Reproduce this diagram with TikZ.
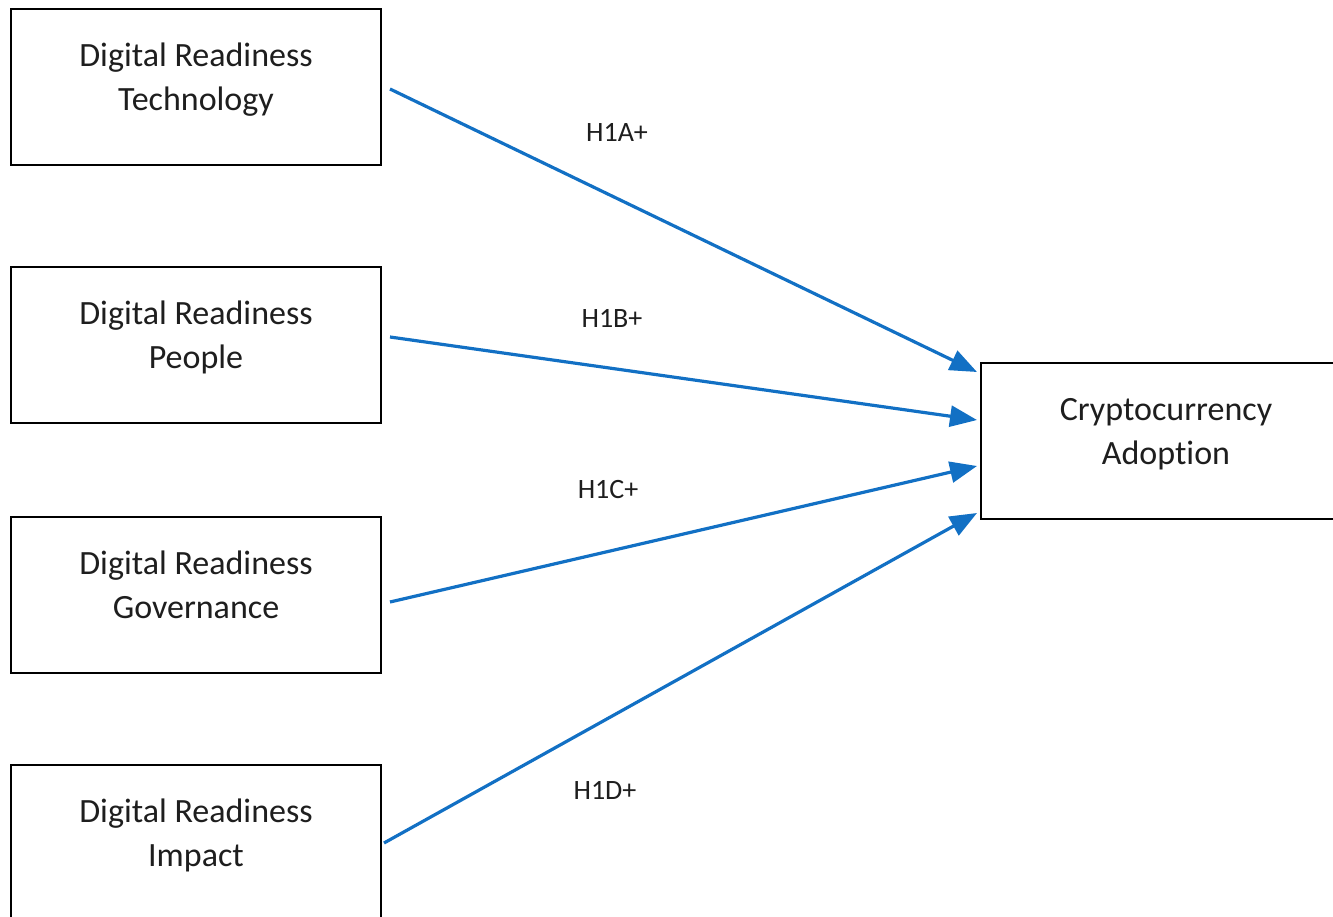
\documentclass[tikz,border=0pt]{standalone}
\usepackage{fontspec}
\setmainfont{Carlito}[Ligatures=NoCommon]
\usetikzlibrary{arrows.meta,calc}
\definecolor{arrowblue}{RGB}{18,112,196}
\definecolor{txtgray}{RGB}{30,30,30}
\begin{document}
\begin{tikzpicture}[x=1pt,y=-1pt,
  box/.style={draw=black,line width=2pt,minimum width=370pt,minimum height=156pt,inner sep=0pt,fill=white},
  boxtext/.style={inner sep=0pt,align=center,font=\fontsize{34}{44}\selectfont,text=txtgray},
  hyp/.style={inner sep=0pt,font=\fontsize{28}{34}\selectfont,text=txtgray},
  link/.style={draw=arrowblue,line width=3.2pt,-{Triangle[length=27pt,width=21pt]}}]
\clip (0,0) rectangle (1333,917);
\useasboundingbox (0,0) rectangle (1333,917);
% boxes
\node[box] (b1) at (196,87) {};
\node[box] (b2) at (196,345) {};
\node[box] (b3) at (196,595) {};
\node[box] (b4) at (196,843) {};
\node[box] (c) at (1166,441) {};
% texts
\node[boxtext] (t1) at ($(b1.center)+(0,-7.5)$) {\strut Digital Readiness\\\strut Technology};
\node[boxtext] (t2) at ($(b2.center)+(0,-7.5)$) {\strut Digital Readiness\\\strut People};
\node[boxtext] (t3) at ($(b3.center)+(0,-7.5)$) {\strut Digital Readiness\\\strut Governance};
\node[boxtext] (t4) at ($(b4.center)+(0,-7.5)$) {\strut Digital Readiness\\\strut Impact};
\node[boxtext] (tc) at ($(c.center)+(0,-7.5)$) {\strut Cryptocurrency\\\strut Adoption};
% connector end points
\coordinate (s1) at ($(b1.east)+(8,2)$);
\coordinate (s2) at ($(b2.east)+(8,-8)$);
\coordinate (s3) at ($(b3.east)+(8,7)$);
\coordinate (s4) at ($(b4.east)+(2,0)$);
\coordinate (e1) at ($(c.west)+(-3,-69)$);
\coordinate (e2) at ($(c.west)+(-3,-21)$);
\coordinate (e3) at ($(c.west)+(-3,25)$);
\coordinate (e4) at ($(c.west)+(-3,72)$);
\draw[link] (s1) -- (e1);
\draw[link] (s2) -- (e2);
\draw[link] (s3) -- (e3);
\draw[link] (s4) -- (e4);
% labels
\node[hyp] (h1) at (617,132) {H1A+};
\node[hyp] (h2) at (612,318) {H1B+};
\node[hyp] (h3) at (608,490) {H1C+};
\node[hyp] (h4) at (605,790) {H1D+};
\end{tikzpicture}
\end{document}
